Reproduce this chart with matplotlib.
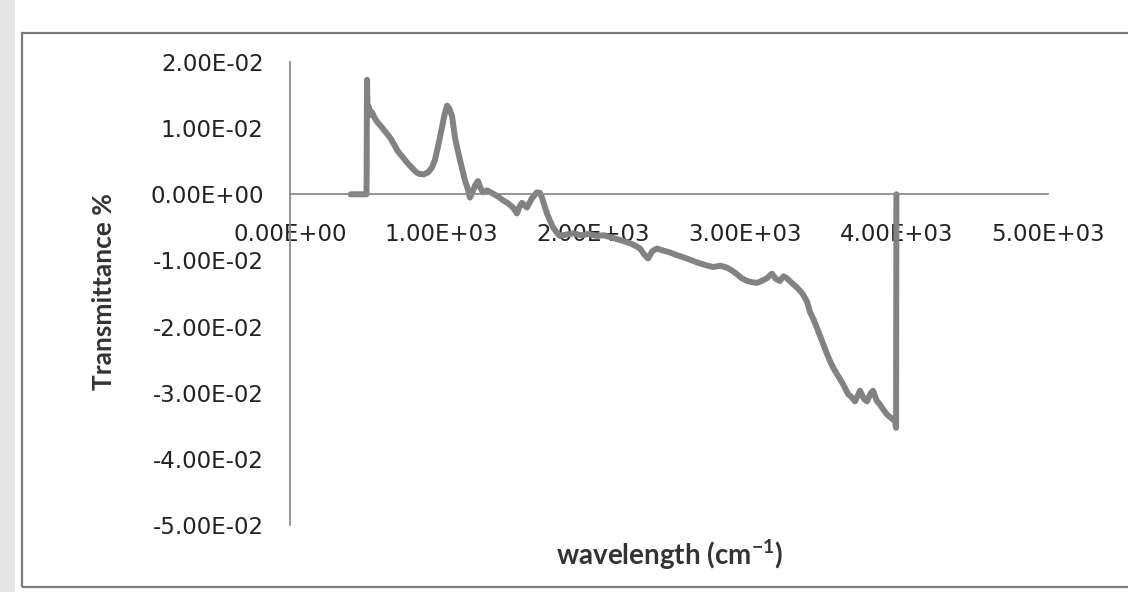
import matplotlib
matplotlib.use("Agg")
import matplotlib.pyplot as plt
from matplotlib.patches import Rectangle
from matplotlib.ticker import FuncFormatter

# wavenumber (cm-1) and transmittance
wavenumber = [400, 505, 508, 512, 520, 530, 541, 555, 565, 580, 600, 620, 645, 665, 690,
              712, 740, 772, 800, 830, 850, 880, 910, 935, 956, 980, 1003, 1020, 1036, 1050,
              1069, 1088, 1105, 1121, 1140, 1154, 1170, 1187, 1205, 1220, 1240, 1255, 1273,
              1300, 1339, 1370, 1405, 1440, 1471, 1497, 1515, 1530, 1563, 1596, 1629, 1650,
              1662, 1680, 1695, 1715, 1735, 1760, 1781, 1820, 1870, 1920, 1970, 2020, 2070,
              2131, 2190, 2243, 2280, 2309, 2340, 2362, 2390, 2421, 2460, 2507, 2550, 2592,
              2640, 2685, 2740, 2790, 2840, 2883, 2920, 2949, 2980, 3015, 3050, 3080, 3110,
              3146, 3179, 3205, 3232, 3255, 3278, 3310, 3344, 3380, 3410, 3430, 3455, 3476,
              3516, 3540, 3562, 3585, 3608, 3630, 3648, 3681, 3705, 3727, 3760, 3785, 3806,
              3830, 3846, 3870, 3892, 3915, 3938, 3965, 3991, 3998, 4000]
transmittance = [0.0, 0.0, 0.0173, 0.0125, 0.0132, 0.0120, 0.0124, 0.0117, 0.0113, 0.0108,
                 0.0103, 0.0097, 0.0090, 0.0084, 0.0074, 0.0065, 0.0057, 0.0048, 0.0041, 0.0034,
                 0.0031, 0.0030, 0.0033, 0.0040, 0.0052, 0.0076, 0.0102, 0.0121, 0.0134, 0.0130,
                 0.0118, 0.0086, 0.0068, 0.0052, 0.0034, 0.0021, 0.0010, -0.0005, 0.0004, 0.0013,
                 0.0020, 0.0010, 0.0003, 0.0006, 0.0001, -0.0003, -0.0009, -0.0014, -0.0020,
                 -0.0029, -0.0018, -0.0013, -0.0020, -0.0006, 0.0003, 0.0002, -0.0005, -0.0018,
                 -0.0029, -0.0040, -0.0050, -0.0058, -0.0063, -0.0061, -0.0059, -0.0062, -0.0060,
                 -0.0063, -0.0062, -0.0066, -0.0070, -0.0074, -0.0078, -0.0082, -0.0092, -0.0097,
                 -0.0086, -0.0082, -0.0085, -0.0088, -0.0092, -0.0095, -0.0099, -0.0103, -0.0107,
                 -0.0110, -0.0108, -0.0111, -0.0116, -0.0121, -0.0127, -0.0131, -0.0133, -0.0134,
                 -0.0131, -0.0127, -0.0120, -0.0128, -0.0131, -0.0124, -0.0127, -0.0134, -0.0141,
                 -0.0150, -0.0162, -0.0178, -0.0190, -0.0202, -0.0226, -0.0240, -0.0252, -0.0263,
                 -0.0272, -0.0280, -0.0287, -0.0302, -0.0307, -0.0313, -0.0297, -0.0309, -0.0313,
                 -0.0301, -0.0297, -0.0312, -0.0318, -0.0326, -0.0333, -0.0338, -0.0343, -0.0353,
                 0.0]

x_ticks = [0, 1000, 2000, 3000, 4000, 5000]
y_ticks = [0.02, 0.01, 0.0, -0.01, -0.02, -0.03, -0.04, -0.05]

plt.rcParams['mathtext.fontset'] = 'custom'
plt.rcParams['mathtext.rm'] = 'Lato:bold'
plt.rcParams['mathtext.default'] = 'regular'


def sci(v, pos):
    # Excel style 0.00E+00 labels
    return f"{v:.2E}"


fig = plt.figure(figsize=(11.28, 5.92), dpi=100)
fig.patch.set_facecolor('white')

# scanner shadow on the left and the chart border
fig.add_artist(Rectangle((0, 0), 0.013, 1, transform=fig.transFigure,
                         facecolor='#e6e6e6', edgecolor='none'))
fig.add_artist(Rectangle((0.0195, 0.0084), 1.1, 0.9356, transform=fig.transFigure,
                         facecolor='none', edgecolor='#7a7a7a', linewidth=1.6))

ax = fig.add_axes([290 / 1128, 67 / 592, (1048 - 290) / 1128, (525 - 62) / 592])
ax.plot(wavenumber, transmittance, color='#828282', linewidth=4.3,
        solid_joinstyle='round', solid_capstyle='round')

ax.set_xlim(0, 5000)
ax.set_ylim(-0.05, 0.02)
ax.set_xticks(x_ticks)
ax.set_yticks(y_ticks)
ax.xaxis.set_major_formatter(FuncFormatter(sci))
ax.yaxis.set_major_formatter(FuncFormatter(sci))

for side in ['top', 'right']:
    ax.spines[side].set_visible(False)
ax.spines['bottom'].set_position(('data', 0))
ax.spines['left'].set_color('#8c8c8c')
ax.spines['bottom'].set_color('#8c8c8c')
ax.spines['left'].set_linewidth(1.3)
ax.spines['bottom'].set_linewidth(1.3)

ax.tick_params(axis='both', length=0, labelsize=16.5, labelcolor='#222222')
ax.tick_params(axis='x', pad=21)
ax.tick_params(axis='y', pad=19)
ax.set_facecolor('none')

ax.set_ylabel('Transmittance %', fontsize=19, fontweight='bold', family='Lato',
              color='#333333', labelpad=0)
ax.yaxis.set_label_coords(-0.229, 0.505, transform=ax.transAxes)
ax.set_xlabel('wavelength (cm$^{-1}$)', fontsize=20, fontweight='bold', family='Lato',
              color='#333333')
ax.xaxis.set_label_coords(0.501, -0.027)

fig.savefig('out.png', dpi=100)
